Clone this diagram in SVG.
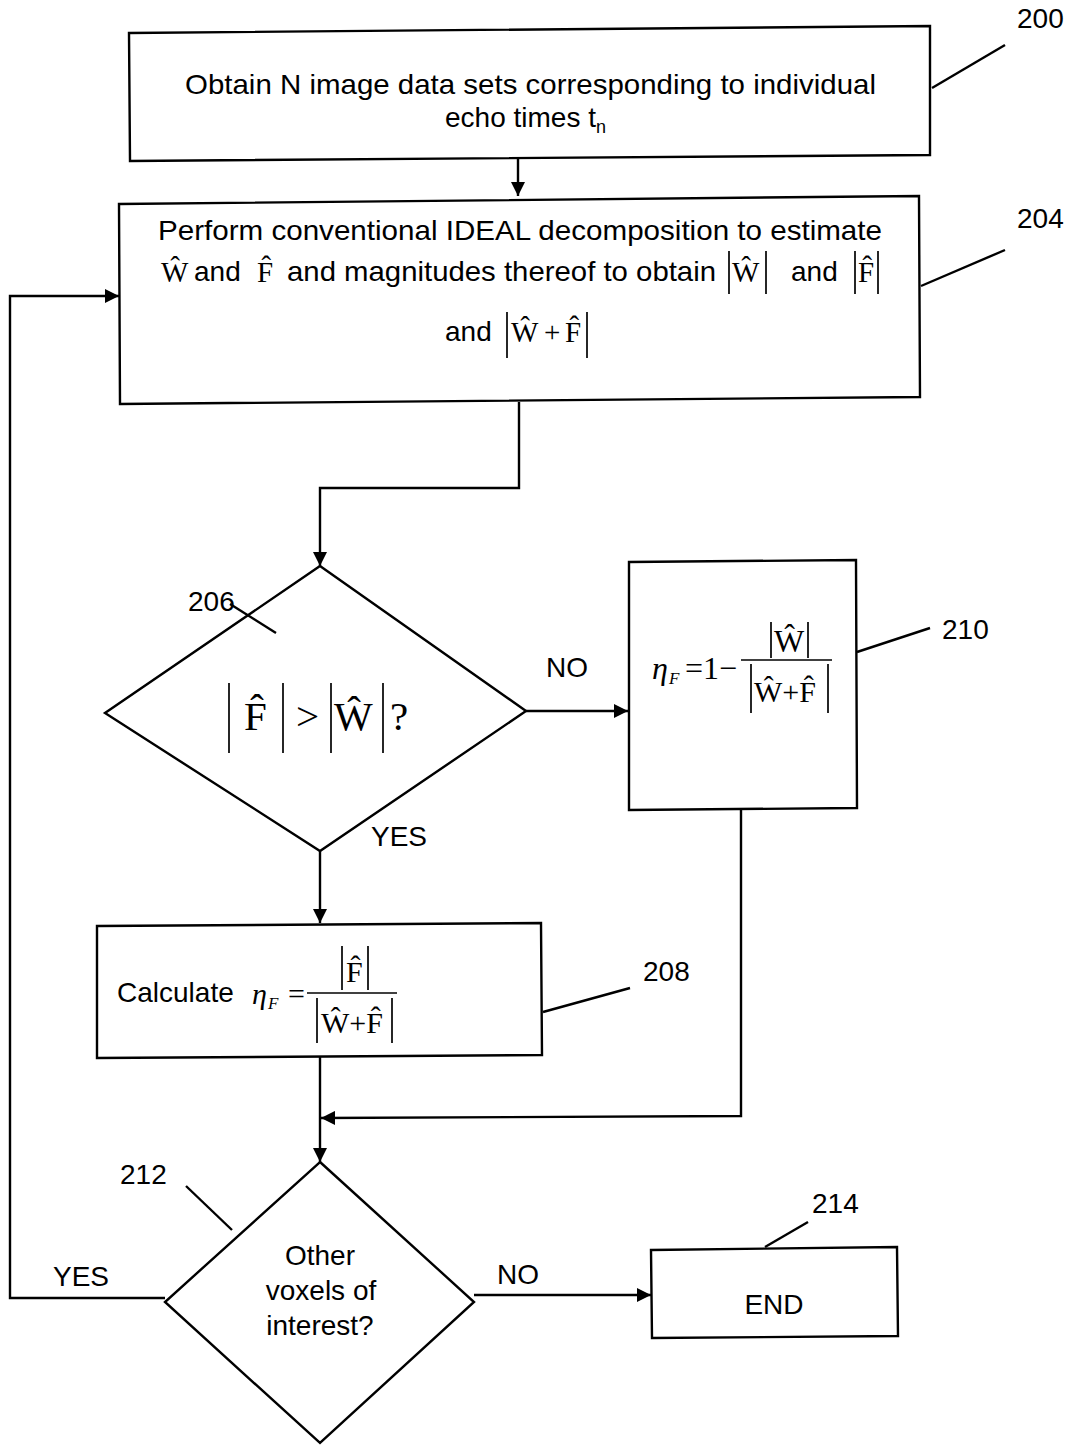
<svg xmlns="http://www.w3.org/2000/svg" width="1068" height="1445" viewBox="0 0 1068 1445">
<style>
.box{fill:#fff;stroke:#000;stroke-width:2.4}
.ln{fill:none;stroke:#000;stroke-width:2.4}
.bar{stroke:#000;stroke-width:1.7}
.t{font-family:"Liberation Sans",Arial,sans-serif;font-size:28px;fill:#000}
.m{font-family:"Liberation Serif","Times New Roman",serif;fill:#000}
.i{font-style:italic}
</style>
<defs>
<marker id="ah" viewBox="0 0 10 10" refX="10" refY="5" markerWidth="14" markerHeight="14" markerUnits="userSpaceOnUse" orient="auto">
<path d="M0,0 L10,5 L0,10 z" fill="#000"/>
</marker>
</defs>
<rect width="1068" height="1445" fill="#fff"/>

<g id="connectors">
<path class="ln" d="M518,158 L518,196" marker-end="url(#ah)"/>
<path class="ln" d="M519,402 L519,488 L320,488 L320,566" marker-end="url(#ah)"/>
<path class="ln" d="M526,711 L628,711" marker-end="url(#ah)"/>
<path class="ln" d="M320,851 L320,923" marker-end="url(#ah)"/>
<path class="ln" d="M741,809 L741,1116 L321,1118" marker-end="url(#ah)"/>
<path class="ln" d="M320,1057 L320,1162" marker-end="url(#ah)"/>
<path class="ln" d="M165,1298 L10,1298 L10,296 L119,296" marker-end="url(#ah)"/>
<path class="ln" d="M474,1295 L651,1295" marker-end="url(#ah)"/>
<text class="t" x="546" y="677">NO</text>
<text class="t" x="371" y="846">YES</text>
<text class="t" x="53" y="1286">YES</text>
<text class="t" x="497" y="1284">NO</text>
</g>

<g id="node200">
<polygon class="box" points="129,33 930,26 930,155 130,161"/>
<text class="t" x="185" y="94" textLength="691" lengthAdjust="spacingAndGlyphs">Obtain N image data sets corresponding to individual</text>
<text class="t" x="445" y="127">echo times t<tspan font-size="18" dy="6">n</tspan></text>
<text class="t" x="1017" y="28">200</text>
<path class="ln" d="M932,88 L1005,45"/>
</g>

<g id="node204">
<polygon class="box" points="119,204 919,196 920,397 120,404"/>
<text class="t" x="158" y="240" textLength="724" lengthAdjust="spacingAndGlyphs">Perform conventional IDEAL decomposition to estimate</text>
<text class="m" x="161" y="282" font-size="29">Ŵ</text>
<text class="t" x="194" y="281">and</text>
<text class="m" x="257" y="282" font-size="29">F̂</text>
<text class="t" x="287" y="281" textLength="429" lengthAdjust="spacingAndGlyphs">and magnitudes thereof to obtain</text>
<line class="bar" x1="729" y1="251" x2="729" y2="294"/>
<text class="m" x="732" y="282" font-size="29">Ŵ</text>
<line class="bar" x1="766" y1="251" x2="766" y2="294"/>
<text class="t" x="791" y="281">and</text>
<line class="bar" x1="855" y1="251" x2="855" y2="294"/>
<text class="m" x="858" y="282" font-size="29">F̂</text>
<line class="bar" x1="878" y1="251" x2="878" y2="294"/>
<text class="t" x="445" y="341">and</text>
<line class="bar" x1="507" y1="312" x2="507" y2="358"/>
<text class="m" x="511" y="342" font-size="29">Ŵ</text>
<text class="m" x="544" y="342" font-size="29">+</text>
<text class="m" x="565" y="342" font-size="29">F̂</text>
<line class="bar" x1="587" y1="312" x2="587" y2="358"/>
<text class="t" x="1017" y="228">204</text>
<path class="ln" d="M921,286 L1005,250"/>
</g>

<g id="node206">
<polygon class="box" points="320,566 526,711 320,851 105,713"/>
<line class="bar" x1="229" y1="683" x2="229" y2="753" stroke-width="2"/>
<text class="m" x="244" y="730" font-size="41">F̂</text>
<line class="bar" x1="283" y1="683" x2="283" y2="753" stroke-width="2"/>
<text class="m" x="296" y="730" font-size="41">&gt;</text>
<line class="bar" x1="331" y1="683" x2="331" y2="753" stroke-width="2"/>
<text class="m" x="334" y="730" font-size="41">Ŵ</text>
<line class="bar" x1="383" y1="683" x2="383" y2="753" stroke-width="2"/>
<text class="m" x="390" y="730" font-size="41">?</text>
<text class="t" x="188" y="611">206</text>
<path class="ln" d="M230,604 L276,633"/>
</g>

<g id="node210">
<polygon class="box" points="629,562 856,560 857,808 629,810"/>
<text class="m i" x="652" y="679" font-size="32">η</text>
<text class="m i" x="669" y="684" font-size="17">F</text>
<text class="m" x="685" y="679" font-size="32">=1−</text>
<line class="bar" x1="741" y1="660" x2="832" y2="660"/>
<line class="bar" x1="771" y1="622" x2="771" y2="658"/>
<text class="m" x="774" y="652" font-size="32">Ŵ</text>
<line class="bar" x1="808" y1="622" x2="808" y2="658"/>
<line class="bar" x1="751" y1="664" x2="751" y2="713"/>
<text class="m" x="754" y="702" font-size="30">Ŵ+F̂</text>
<line class="bar" x1="828" y1="664" x2="828" y2="713"/>
<text class="t" x="942" y="639">210</text>
<path class="ln" d="M857,652 L930,628"/>
</g>

<g id="node208">
<polygon class="box" points="97,926 541,923 542,1055 97,1058"/>
<text class="t" x="117" y="1002">Calculate</text>
<text class="m i" x="252" y="1004" font-size="30">η</text>
<text class="m i" x="268" y="1009" font-size="17">F</text>
<text class="m" x="288" y="1004" font-size="30">=</text>
<line class="bar" x1="307" y1="993" x2="397" y2="993"/>
<line class="bar" x1="342" y1="946" x2="342" y2="990"/>
<text class="m" x="346" y="982" font-size="30">F̂</text>
<line class="bar" x1="368" y1="946" x2="368" y2="990"/>
<line class="bar" x1="317" y1="998" x2="317" y2="1043"/>
<text class="m" x="321" y="1033" font-size="30">Ŵ+F̂</text>
<line class="bar" x1="392" y1="998" x2="392" y2="1043"/>
<text class="t" x="643" y="981">208</text>
<path class="ln" d="M543,1012 L630,988"/>
</g>

<g id="node212">
<polygon class="box" points="320,1162 474,1302 320,1443 165,1302"/>
<text class="t" x="320" y="1265" text-anchor="middle">Other</text>
<text class="t" x="321" y="1300" text-anchor="middle">voxels of</text>
<text class="t" x="320" y="1335" text-anchor="middle">interest?</text>
<text class="t" x="120" y="1184">212</text>
<path class="ln" d="M186,1186 L232,1230"/>
</g>

<g id="node214">
<polygon class="box" points="651,1250 897,1247 898,1336 652,1338"/>
<text class="t" x="774" y="1314" text-anchor="middle">END</text>
<text class="t" x="812" y="1213">214</text>
<path class="ln" d="M765,1247 L808,1222"/>
</g>
</svg>
